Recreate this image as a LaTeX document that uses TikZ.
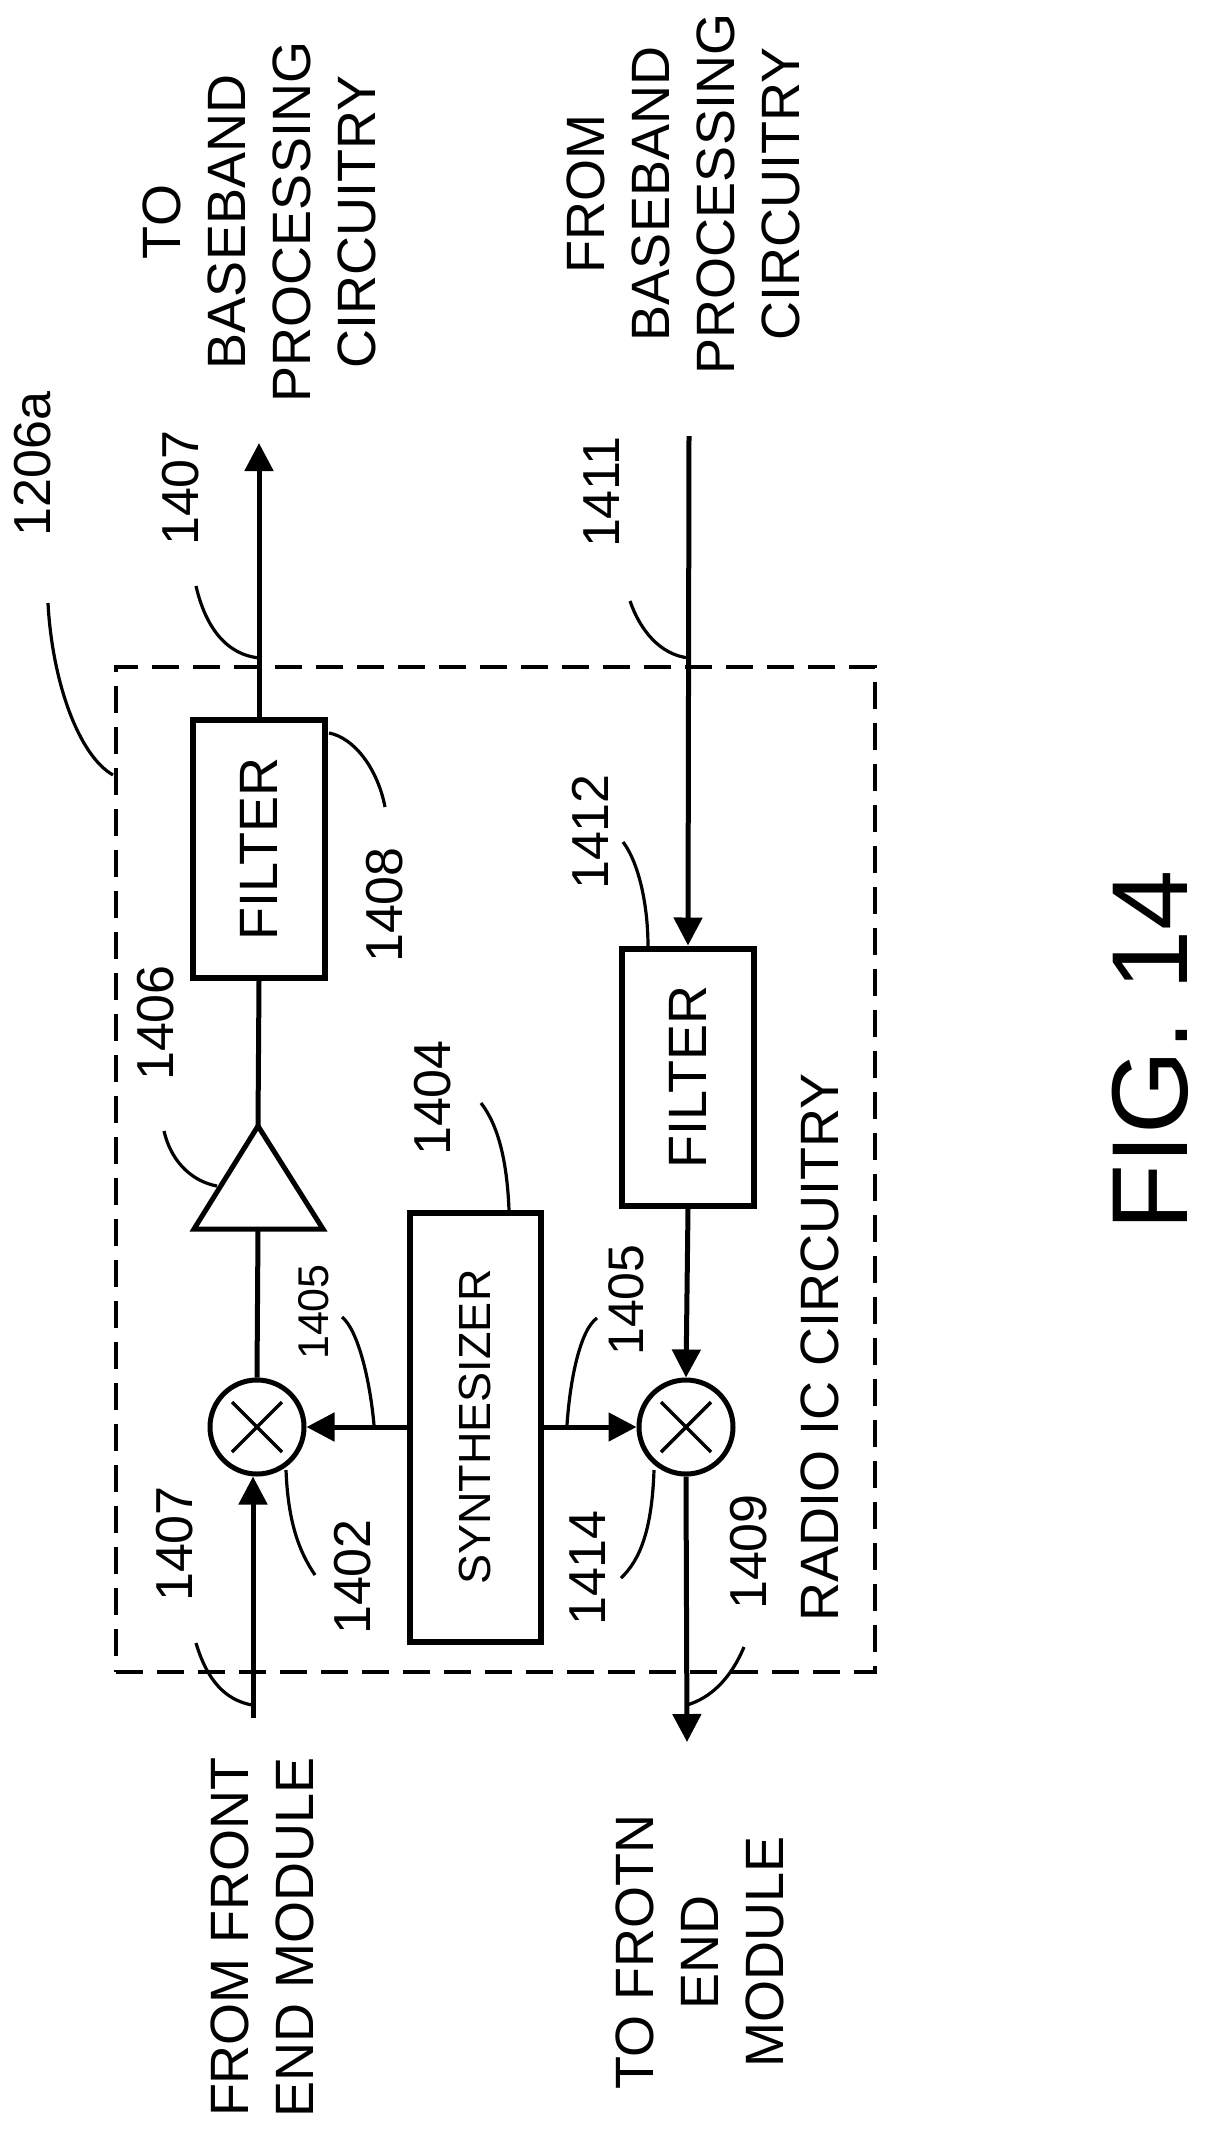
\documentclass[tikz,border=0pt]{standalone}
\usepackage{fontspec}
\setmainfont{Liberation Sans}
\usetikzlibrary{arrows.meta}
\tikzset{
  lbl/.style={rotate=90,inner sep=0pt,align=center,font=\fontsize{54}{65}\selectfont},
  num/.style={rotate=90,inner sep=0pt,font=\fontsize{52}{60}\selectfont},
  blockbox/.style={draw,rotate=90,line width=6pt,inner sep=0pt,font=\fontsize{54}{60}\selectfont},
  mixer/.style={draw,circle,line width=5pt,minimum size=94pt,inner sep=0pt},
  wire/.style={line width=5pt},
  arrowwire/.style={line width=5pt,-{Triangle[length=28pt,width=28pt]}},
  crossline/.style={line width=3.5pt},
  leader/.style={line width=3.2pt},
  frame/.style={draw,dash pattern=on 27pt off 14pt,line width=4pt,inner sep=0pt}
}
\begin{document}
\begin{tikzpicture}[x=1pt,y=-1pt]
\useasboundingbox (0,0) rectangle (1208,2138);
% frame
\node[frame,minimum width=759pt,minimum height=1005pt] (frm) at (495.5,1169.5) {};
% blocks
\node[blockbox,minimum width=258pt,minimum height=132pt] (f1) at (259,849) {FILTER};
\node[blockbox,minimum width=257pt,minimum height=132pt] (f2) at (688,1077) {FILTER};
\node[blockbox,minimum width=429pt,minimum height=131pt,font=\fontsize{45}{50}\selectfont] (syn) at (475,1427) {SYNTHESIZER};
\node[mixer] (m1) at (257,1427) {};
\node[mixer] (m2) at (686,1427) {};
\draw[crossline] ([shift={(-10pt,-10pt)}]m1.45) -- ([shift={(10pt,10pt)}]m1.225);
\draw[crossline] ([shift={(10pt,-10pt)}]m1.135) -- ([shift={(-10pt,10pt)}]m1.315);
\draw[crossline] ([shift={(-10pt,-10pt)}]m2.45) -- ([shift={(10pt,10pt)}]m2.225);
\draw[crossline] ([shift={(10pt,-10pt)}]m2.135) -- ([shift={(-10pt,10pt)}]m2.315);
% amplifier
\coordinate (apex) at (258,1126);
\coordinate (ampl) at (194,1229);
\coordinate (ampr) at (323,1229);
\coordinate (ampb) at (258,1229);
\draw[line width=5pt,line join=miter] (apex) -- (ampl) -- (ampr) -- cycle;
% end points
\coordinate (oa) at (259,443);
\coordinate (ob) at (689,436);
\coordinate (oc) at (253,1718);
\coordinate (od) at (687,1742);
% wires
\draw[arrowwire] (f1.east) -- (oa);
\draw[wire] (apex) -- (f1.west);
\draw[wire] (m1.north) -- (ampb);
\draw[arrowwire] (ob) -- (f2.east);
\draw[arrowwire] (f2.west) -- (m2.north);
\draw[arrowwire] (oc) -- (oc |- m1.south);
\draw[arrowwire] (m2.south) -- (od);
\draw[arrowwire] (syn.north) -- (m1.east);
\draw[arrowwire] (syn.south) -- (m2.west);
% labels
\node[lbl] (t1) at (259,222) {TO\\BASEBAND\\PROCESSING\\CIRCUITRY};
\node[lbl] (t2) at (683.5,194) {FROM\\BASEBAND\\PROCESSING\\CIRCUITRY};
\node[lbl] (t3) at (262.5,1937) {FROM FRONT\\END MODULE};
\node[lbl] (t4) at (700,1952) {TO FROTN\\END\\MODULE};
\node[lbl] (t5) at (820,1347) {RADIO IC CIRCUITRY};
\node[rotate=90,inner sep=0pt,font=\fontsize{108}{120}\selectfont] (fig) at (1150,1050) {FIG. 14};
\node[num] (n1206) at (33,464) {1206a};
\node[num] (n1407a) at (181,488) {1407};
\node[num] (n1411) at (602,492) {1411};
\node[num] (n1408) at (385,905) {1408};
\node[num] (n1412) at (590,832) {1412};
\node[num] (n1406) at (156,1023) {1406};
\node[num] (n1404) at (433,1098) {1404};
\node[num,font=\fontsize{43}{50}\selectfont] (n1405a) at (314,1312) {1405};
\node[num,font=\fontsize{50}{60}\selectfont] (n1405b) at (626,1300) {1405};
\node[num] (n1402) at (353,1577) {1402};
\node[num] (n1414) at (588,1568) {1414};
\node[num] (n1407b) at (175,1544) {1407};
\node[num] (n1409) at (749,1552) {1409};
% leaders
\coordinate (a1) at (48,603);    \coordinate (b1) at (113,775);
\coordinate (a2) at (196,586);   \coordinate (b2) at (260,658);
\coordinate (a3) at (630,601);   \coordinate (b3) at (689,658);
\coordinate (a4) at (329,733);   \coordinate (b4) at (385,807);
\coordinate (a5) at (623,842);   \coordinate (b5) at (648,947);
\coordinate (a6) at (164,1131);  \coordinate (b6) at (217,1186);
\coordinate (a7) at (481,1103);  \coordinate (b7) at (509,1210);
\coordinate (a8) at (342,1317);  \coordinate (b8) at (374,1425);
\coordinate (a9) at (597,1318);  \coordinate (b9) at (567,1425);
\coordinate (a10) at (286,1470); \coordinate (b10) at (315,1575);
\coordinate (a11) at (654,1470); \coordinate (b11) at (621,1578);
\coordinate (a12) at (196,1643); \coordinate (b12) at (252,1705);
\coordinate (a13) at (744,1647); \coordinate (b13) at (687,1705);
\draw[leader] (a1) .. controls (52,680) and (78,755) .. (b1);
\draw[leader] (a2) .. controls (205,625) and (225,655) .. (b2);
\draw[leader] (a3) .. controls (640,630) and (660,655) .. (b3);
\draw[leader] (a4) .. controls (355,738) and (378,770) .. (b4);
\draw[leader] (a5) .. controls (637,860) and (648,900) .. (b5);
\draw[leader] (a6) .. controls (172,1165) and (195,1182) .. (b6);
\draw[leader] (a7) .. controls (498,1125) and (507,1160) .. (b7);
\draw[leader] (a8) .. controls (358,1330) and (370,1380) .. (b8);
\draw[leader] (a9) .. controls (580,1330) and (570,1380) .. (b9);
\draw[leader] (a10) .. controls (288,1520) and (298,1550) .. (b10);
\draw[leader] (a11) .. controls (652,1530) and (640,1560) .. (b11);
\draw[leader] (a12) .. controls (207,1680) and (225,1700) .. (b12);
\draw[leader] (a13) .. controls (730,1680) and (710,1698) .. (b13);
\end{tikzpicture}
\end{document}
